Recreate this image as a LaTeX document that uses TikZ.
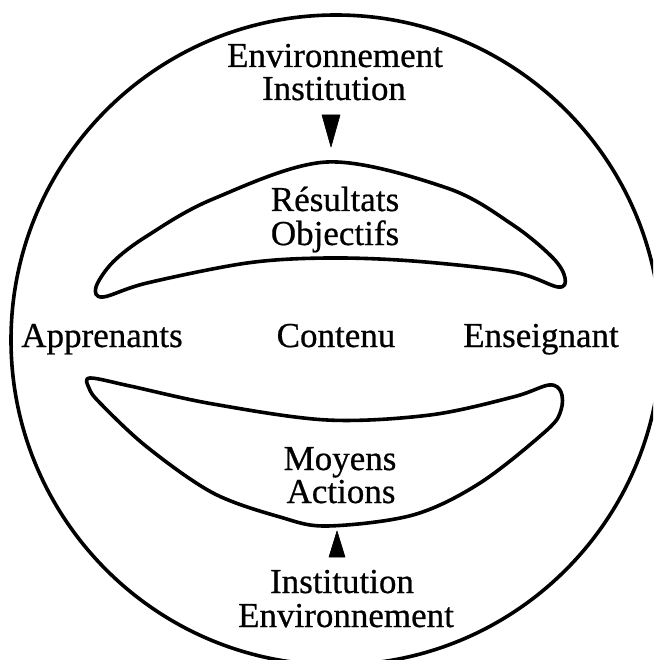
\documentclass[tikz,border=0pt]{standalone}
\usepackage{fontspec}
\setmainfont{Liberation Serif}
\newfontfamily\labelfont{Liberation Serif}[FakeBold=0.6]
\begin{document}
\begin{tikzpicture}[x=1pt,y=-1pt,
  lbl/.style={inner sep=0pt, anchor=base, font=\labelfont\fontsize{35}{35}\selectfont},
  outline/.style={line width=3.6pt, line join=round},
  tip/.style={fill=black, draw=black, line width=0.6pt, line join=round}]
\useasboundingbox (0,0) rectangle (653,660);
\clip (0,0) rectangle (653,660);

% outer circle
\draw[outline] (336,340) circle[radius=325];

% upper crescent
\draw[outline] plot[smooth cycle, tension=0.55] coordinates {
  (96,287) (113,262) (147,236) (213,199) (327,162) (447,188) (513,225)
  (553,258) (565,278) (558,287) (513,272) (413,261) (327,258) (247,263)
  (147,283) (103,297)};

% lower crescent
\draw[outline] plot[smooth cycle, tension=0.55] coordinates {
  (90,378) (130,386) (213,404) (327,420) (430,415) (513,397) (549,385)
  (561,392) (561,410) (547,430) (480,483) (413,515) (327,526) (280,517)
  (213,493) (147,447) (100,403) (89,388)};

% labels
\node[lbl] (envtop) at (335,67) {Environnement};
\node[lbl] (insttop) at (334,100) {Institution};
\node[lbl] (res) at (335,211) {Résultats};
\node[lbl] (obj) at (335,245) {Objectifs};
\node[lbl] (app) at (102,347) {Apprenants};
\node[lbl] (cont) at (336,347) {Contenu};
\node[lbl] (ens) at (541,347) {Enseignant};
\node[lbl] (moy) at (340,470) {Moyens};
\node[lbl] (act) at (341,503) {Actions};
\node[lbl] (instbot) at (342,593) {Institution};
\node[lbl] (envbot) at (346,627) {Environnement};

% arrow heads
\coordinate (downtip) at (331,147);
\coordinate (uptip) at (337,531);
\fill[tip] (322,115) -- (340,115) -- (downtip) -- cycle;
\fill[tip] (329,557) -- (345,557) -- (uptip) -- cycle;
\end{tikzpicture}
\end{document}
